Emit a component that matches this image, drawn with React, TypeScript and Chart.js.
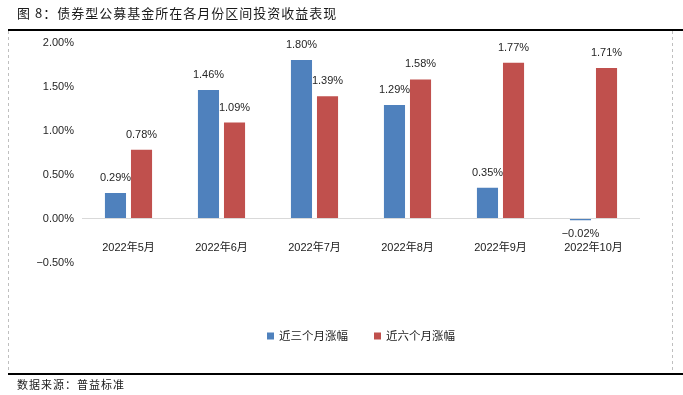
import React, { useEffect, useRef } from "react";
import { Chart, registerables } from "chart.js";

Chart.register(...registerables);

const categories = ["2022年5月", "2022年6月", "2022年7月", "2022年8月", "2022年9月", "2022年10月"];
const threeMonth = [0.29, 1.46, 1.8, 1.29, 0.35, -0.02];
const sixMonth = [0.78, 1.09, 1.39, 1.58, 1.77, 1.71];
const seriesNames = ["近三个月涨幅", "近六个月涨幅"];
const yTicks = [-0.5, 0, 0.5, 1.0, 1.5, 2.0];
const titleText = "图 8：债券型公募基金所在各月份区间投资收益表现";
const sourceText = "数据来源：普益标准";

const BLUE = "#4F81BD";
const RED = "#C0504D";
const SANS = "Arial, 'Liberation Sans', 'Noto Sans CJK SC', sans-serif";
const CJK = "'Noto Sans CJK SC', sans-serif";

const decorPlugin = {
  id: "decor",
  afterDraw(chart: any) {
    const { ctx, chartArea } = chart;
    ctx.save();
    // title
    ctx.fillStyle = "#1a1a1a";
    ctx.font = `13px ${CJK}`;
    ctx.textBaseline = "middle";
    ctx.textAlign = "left";
    (ctx as any).letterSpacing = "1px";
    ctx.fillText(titleText, 17, 13);
    ctx.font = `11px ${CJK}`;
    ctx.fillText(sourceText, 17, 385);
    (ctx as any).letterSpacing = "0px";
    // lines
    ctx.strokeStyle = "#000";
    ctx.lineWidth = 2;
    ctx.beginPath();
    ctx.moveTo(8, 30);
    ctx.lineTo(683, 30);
    ctx.moveTo(8, 374);
    ctx.lineTo(683, 374);
    ctx.stroke();
    ctx.strokeStyle = "#bfbfbf";
    ctx.lineWidth = 1;
    ctx.setLineDash([3, 3]);
    ctx.beginPath();
    ctx.moveTo(8.5, 31);
    ctx.lineTo(8.5, 373);
    ctx.moveTo(672.5, 31);
    ctx.lineTo(672.5, 373);
    ctx.stroke();
    ctx.setLineDash([]);

    // data labels
    ctx.font = `11px ${SANS}`;
    ctx.fillStyle = "#262626";
    ctx.textAlign = "center";
    chart.data.datasets.forEach((ds: any, di: number) => {
      const meta = chart.getDatasetMeta(di);
      meta.data.forEach((el: any, i: number) => {
        const v = ds.data[i];
        const txt = v.toFixed(2) + "%";
        const y = v >= 0 ? el.y - 15 : el.y + 14;
        ctx.fillText(txt.replace("-", "−"), el.x, y);
      });
    });

    // category labels
    const xs = chart.scales.x;
    ctx.fillStyle = "#1a1a1a";
    categories.forEach((c, i) => {
      ctx.fillText(c, xs.getPixelForValue(i), chartArea.bottom - 15);
    });

    // legend
    ctx.font = `11.5px ${CJK}`;
    ctx.textAlign = "left";
    const items = chart.data.datasets.map((d: any) => ({ label: d.label, color: d.backgroundColor }));
    const gap = 26;
    const sq = 7;
    const widths = items.map((it: any) => sq + 5 + ctx.measureText(it.label).width);
    const total = widths.reduce((a: number, b: number) => a + b, 0) + gap * (items.length - 1);
    let x = (chartArea.left + chartArea.right) / 2 - total / 2;
    const ly = 336;
    items.forEach((it: any, i: number) => {
      ctx.fillStyle = it.color;
      ctx.fillRect(x, ly - sq / 2, sq, sq);
      ctx.fillStyle = "#1a1a1a";
      ctx.fillText(it.label, x + sq + 5, ly);
      x += widths[i] + gap;
    });
    ctx.restore();
  },
};

export default function App() {
  const ref = useRef<HTMLCanvasElement>(null);
  useEffect(() => {
    document.body.style.margin = "0";
    const chart = new Chart(ref.current!, {
      type: "bar",
      data: {
        labels: categories,
        datasets: [
          { label: seriesNames[0], data: threeMonth, backgroundColor: BLUE, categoryPercentage: 0.56, barPercentage: 0.81 },
          { label: seriesNames[1], data: sixMonth, backgroundColor: RED, categoryPercentage: 0.56, barPercentage: 0.81 },
        ],
      },
      options: {
        animation: false,
        responsive: false,
        layout: { padding: { top: 42.5, right: 43, bottom: 132.5, left: 0 } },
        plugins: { legend: { display: false }, tooltip: { enabled: false } },
        scales: {
          x: { display: false },
          y: {
            min: -0.5,
            max: 2.0,
            afterFit: (s: any) => { s.width = 82; },
            afterBuildTicks: (s: any) => { s.ticks = yTicks.map((v) => ({ value: v })); },
            border: { display: false },
            grid: {
              drawTicks: false,
              color: (c: any) => (c.tick && c.tick.value === 0 ? "#d9d9d9" : "rgba(0,0,0,0)"),
            },
            ticks: {
              padding: 8,
              color: "#262626",
              font: { size: 11, family: SANS },
              callback: (v: any) => (Number(v) < 0 ? "−" : "") + Math.abs(Number(v)).toFixed(2) + "%",
            },
          },
        },
      },
      plugins: [decorPlugin],
    });
    return () => chart.destroy();
  }, []);
  return (
    <div style={{ position: "fixed", left: 0, top: 0, width: 683, height: 395, background: "#fff" }}>
      <canvas ref={ref} width={683} height={395} style={{ width: 683, height: 395 }} />
    </div>
  );
}
